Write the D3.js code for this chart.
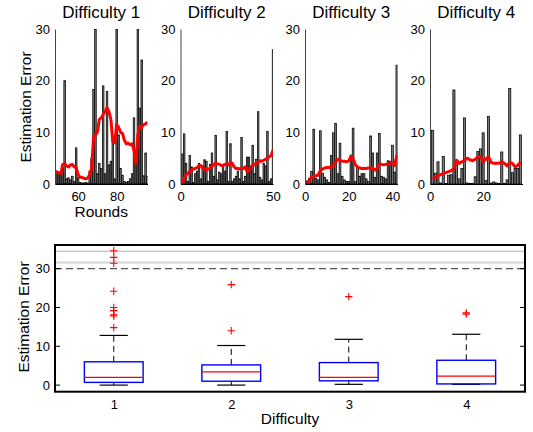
<!DOCTYPE html>
<html>
<head>
<meta charset="utf-8">
<script src="https://cdn.jsdelivr.net/npm/d3@7"></script>
<style>
  body { margin: 0; background: #fff; }
  text { font-family: "Liberation Sans", Arial, Helvetica, sans-serif; fill: #000; }
</style>
</head>
<body>
<div id="chart"></div>
<script>
// ---- data ----
let panelTitles = ["Difficulty 1", "Difficulty 2", "Difficulty 3", "Difficulty 4"];
let roundStart = [48, 1, 1, 1];
let xDomains = [[48, 96], [0, 50], [0, 42.3], [0, 34.8]];
let xTicks = [[60, 80], [0, 50], [0, 20, 40], [0, 20]];
let yTicksTop = [0, 10, 20, 30];

// estimation error per round
let err1 = [2.7, 2.5, 2.2, 1.8, 3.0, 20, 1.0, 1.2, 0.8, 1.5, 0.5, 7.0, 1.2, 0.3, 0.2, 0.2, 0.3, 0.2, 2.5, 5.0,
            18.3, 30, 2.0, 4.0, 3.0, 19, 2.0, 17.9, 3.7, 4.4, 9.2, 1.0, 30, 9.5, 3.0, 1.7, 0.5, 0.3, 0.5, 1.0,
            2.0, 12.8, 5.0, 30, 14.7, 24, 1.6, 6.0, 1.5];
let err2 = [5.8, 9.7, 4.0, 0.5, 5.5, 3.3, 0.3, 2.0, 2.5, 4.0, 1.0, 3.5, 4.7, 4.4, 0.5, 3.8, 6.0, 1.5, 9.4, 0.8,
            2.3, 2.0, 3.7, 2.5, 10.2, 0.5, 7.8, 0.5, 1.0, 1.5, 2.5, 1.0, 9.0, 0.5, 1.5, 5.2, 5.2, 3.5, 7.5, 2.0,
            4.8, 14, 1.3, 0.8, 4.0, 3.5, 10.2, 0.5, 1.0, 26];
let err3 = [0.6, 1.1, 2.4, 10.6, 1.1, 0.8, 10.3, 2.1, 1.3, 0.8, 0.3, 5.5, 9.9, 11.7, 2.0, 7.9, 1.5, 0.8, 0.5, 0.5,
            5.6, 10.8, 0.5, 3.3, 1.5, 2.0, 2.0, 1.0, 0.5, 9.3, 6.0, 1.3, 6.0, 9.8, 1.5, 1.3, 1.0, 4.5, 4.4, 7.5,
            2.3, 23];
let err4 = [10.4, 2.1, 4.3, 0.2, 5.3, 0.1, 1.7, 1.8, 18.2, 3.8, 1.0, 3.0, 12.8, 0.2, 0.1, 0.1, 1.4, 6.3, 6.8, 9.9,
            0.7, 13.1, 0.2, 0.4, 0.2, 0.1, 6.2, 0.1, 0.8, 18.5, 2.2, 3.0, 3.0, 9.5];

// running average (red line)
let avg1 = [2.4, 2.3, 2.2, 2.0, 3.8, 3.9, 3.5, 3.3, 3.7, 3.8, 3.3, 3.2, 1.8, 1.3, 1.3, 1.1, 1.0, 1.2, 1.8, 3.0,
            9.0, 9.5, 10.0, 12.5, 12.8, 13.5, 14.0, 14.8, 14.0, 12.5, 8.2, 8.0, 11.5, 11.0, 10.0, 9.8, 8.5, 7.8, 7.9, 7.6,
            7.8, 6.5, 4.0, 9.5, 11.2, 11.0, 11.5, 11.6, 12.0];
let avg2 = [0.2, 1.0, 1.8, 2.0, 2.5, 2.7, 2.9, 3.0, 3.2, 3.5, 3.6, 3.0, 2.8, 2.8, 2.9, 3.0, 3.4, 3.8, 4.0, 3.9,
            3.8, 3.6, 3.6, 3.8, 3.9, 3.7, 4.2, 4.0, 3.3, 3.0, 3.0, 2.9, 3.1, 3.0, 3.3, 2.4, 2.6, 3.3, 3.5, 3.8,
            4.0, 4.2, 4.5, 4.4, 4.6, 4.8, 5.0, 5.3, 5.5, 6.6];
let avg3 = [0.2, 0.8, 1.3, 1.5, 1.6, 1.7, 2.6, 2.9, 3.1, 3.2, 3.2, 3.3, 3.5, 4.3, 4.8, 4.6, 4.4, 4.4, 4.3, 4.5,
            5.3, 4.8, 3.8, 3.3, 3.1, 3.0, 3.0, 3.0, 3.1, 3.1, 3.0, 2.7, 3.0, 3.8, 3.8, 3.7, 3.8, 3.8, 4.1, 4.0,
            3.6, 5.6];
let avg4 = [1.0, 1.3, 1.6, 1.8, 2.0, 2.2, 2.4, 2.6, 3.0, 4.6, 4.0, 4.3, 4.6, 5.0, 4.7, 4.5, 4.8, 5.2, 5.3, 4.3,
            4.8, 5.3, 4.2, 4.0, 4.0, 4.0, 4.3, 4.0, 3.5, 4.2, 4.0, 3.3, 3.6, 4.2];

// boxplot summary per difficulty
let difficulties = [1, 2, 3, 4];
let whiskerLow = [0, 0, 0.2, 0.2];
let q1 = [0.7, 1.0, 1.1, 0.3];
let medians = [2.0, 3.4, 2.0, 2.3];
let q3 = [6.0, 5.2, 5.8, 6.4];
let whiskerHigh = [12.8, 10.2, 11.8, 13.1];
let outliers = [[14.8, 17.8, 18.1, 19.2, 20.0, 24.2, 31.4, 32.9, 34.6], [14.0, 25.9], [22.8], [18.3, 18.6]];
let yTicksBottom = [0, 10, 20, 30];
let refLines = [34.5, 31.6];
let cutoff = 30;

let errs = [err1, err2, err3, err4];
let avgs = [avg1, avg2, avg3, avg4];

// ---- drawing ----
let width = 533, height = 432;
let svg = d3.select("#chart").append("svg")
    .attr("width", width)
    .attr("height", height);

let font = {title: 17, label: 15.5, tick: 13};

let panelLeft = [55, 180.5, 305, 430];
let panelW = 92.5;
let topY = 29, baseY = 184;

let yTop = d3.scaleLinear().domain([0, 30]).range([baseY, topY]);

panelTitles.forEach(function(title, p){
    let x = d3.scaleLinear().domain(xDomains[p]).range([panelLeft[p], panelLeft[p] + panelW]);
    let step = x(1) - x(0);
    let rows = errs[p].map(function(v, i){ return {round: roundStart[p] + i, err: v, avg: avgs[p][i]}; });

    let g = svg.append("g").attr("class", "panel--" + p);

    g.append("clipPath").attr("id", "clip" + p)
      .append("rect")
        .attr("x", panelLeft[p]).attr("y", topY)
        .attr("width", panelW).attr("height", baseY - topY);

    let plot = g.append("g").attr("clip-path", "url(#clip" + p + ")");

    plot.selectAll("rect.bar")
        .data(rows).enter()
        .append("rect")
          .attr("class", "bar")
          .attr("x", function(d){ return x(d.round) - step * 0.4; })
          .attr("y", function(d){ return yTop(d.err); })
          .attr("width", step * 0.8)
          .attr("height", function(d){ return baseY - yTop(d.err); })
          .attr("fill", "#7a7a7a")
          .attr("stroke", "#000")
          .attr("stroke-width", 0.75);

    let line = d3.line()
        .x(function(d){ return x(d.round); })
        .y(function(d){ return yTop(d.avg); });

    plot.append("path")
        .datum(rows)
        .attr("d", line)
        .attr("fill", "none")
        .attr("stroke", "#ff0000")
        .attr("stroke-width", 3)
        .attr("stroke-linejoin", "round");

    // axes
    let ax = g.append("g")
        .attr("transform", "translate(" + panelLeft[p] + ",0)")
        .call(d3.axisLeft(yTop).tickValues(yTicksTop).tickSize(0).tickPadding(5));
    ax.select(".domain").attr("stroke", "#444");
    ax.selectAll(".tick text").attr("font-size", font.tick).attr("font-family", null);

    let bx = g.append("g")
        .attr("transform", "translate(0," + baseY + ")")
        .call(d3.axisBottom(x).tickValues(xTicks[p]).tickSize(0).tickPadding(8));
    bx.select(".domain").attr("stroke", "#000").attr("stroke-width", 1.2);
    bx.selectAll(".tick text").attr("font-size", font.tick).attr("font-family", null);

    g.append("text")
        .attr("x", panelLeft[p] + panelW / 2)
        .attr("y", 18)
        .attr("text-anchor", "middle")
        .attr("font-size", font.title)
        .text(title);
});

svg.append("text")
    .attr("transform", "translate(31,107) rotate(-90)")
    .attr("text-anchor", "middle")
    .attr("font-size", font.label)
    .text("Estimation Error");

svg.append("text")
    .attr("x", panelLeft[0] + panelW / 2)
    .attr("y", 217)
    .attr("text-anchor", "middle")
    .attr("font-size", font.label)
    .text("Rounds");

// ---- boxplot ----
let box = {left: 55, right: 525, top: 245, bottom: 391.7};
let xb = d3.scaleLinear().domain([0.5, 4.5]).range([box.left, box.right]);
let yb = d3.scaleLinear().domain([-1.7, 36.1]).range([box.bottom, box.top]);

let bg = svg.append("g").attr("class", "boxplot");

// reference lines
bg.append("line")
    .attr("x1", box.left).attr("x2", box.right)
    .attr("y1", yb(refLines[0])).attr("y2", yb(refLines[0]))
    .attr("stroke", "#b0b0b0").attr("stroke-width", 1);
bg.append("line")
    .attr("x1", box.left).attr("x2", box.right)
    .attr("y1", yb(refLines[1])).attr("y2", yb(refLines[1]))
    .attr("stroke", "#d4d4d4").attr("stroke-width", 2);
bg.append("line")
    .attr("x1", box.left).attr("x2", box.right)
    .attr("y1", yb(cutoff)).attr("y2", yb(cutoff))
    .attr("stroke", "#555").attr("stroke-width", 1.3)
    .style("stroke-dasharray", "7,4");

let boxW = 0.5, capW = 0.24;
difficulties.forEach(function(d, i){
    let cx = xb(d);
    let g = bg.append("g").attr("class", "box--" + i);
    // whiskers
    g.append("line")
        .attr("x1", cx).attr("x2", cx)
        .attr("y1", yb(q3[i])).attr("y2", yb(whiskerHigh[i]))
        .attr("stroke", "#000").style("stroke-dasharray", "6,4");
    g.append("line")
        .attr("x1", cx).attr("x2", cx)
        .attr("y1", yb(q1[i])).attr("y2", yb(whiskerLow[i]))
        .attr("stroke", "#000").style("stroke-dasharray", "6,4");
    [whiskerLow[i], whiskerHigh[i]].forEach(function(v){
        g.append("line")
            .attr("x1", xb(d - capW / 2)).attr("x2", xb(d + capW / 2))
            .attr("y1", yb(v)).attr("y2", yb(v))
            .attr("stroke", "#000").attr("stroke-width", 1.2);
    });
    g.append("rect")
        .attr("x", xb(d - boxW / 2))
        .attr("y", yb(q3[i]))
        .attr("width", xb(d + boxW / 2) - xb(d - boxW / 2))
        .attr("height", yb(q1[i]) - yb(q3[i]))
        .attr("fill", "none")
        .attr("stroke", "#0000ff")
        .attr("stroke-width", 1.4);
    g.append("line")
        .attr("x1", xb(d - boxW / 2)).attr("x2", xb(d + boxW / 2))
        .attr("y1", yb(medians[i])).attr("y2", yb(medians[i]))
        .attr("stroke", "#ff0000").attr("stroke-width", 1.2);
    g.selectAll("path.out")
        .data(outliers[i]).enter()
        .append("path")
          .attr("class", "out")
          .attr("d", function(v){ let y = yb(v); return "M" + (cx - 3.7) + "," + y + "H" + (cx + 3.7) + "M" + cx + "," + (y - 3.7) + "V" + (y + 3.7); })
          .attr("stroke", "#ff0000")
          .attr("stroke-width", 1.1)
          .attr("fill", "none");
});

// frame + ticks
bg.append("rect")
    .attr("x", box.left).attr("y", box.top)
    .attr("width", box.right - box.left).attr("height", box.bottom - box.top)
    .attr("fill", "none").attr("stroke", "#000").attr("stroke-width", 2);

let ly = bg.append("g")
    .attr("transform", "translate(" + box.left + ",0)")
    .call(d3.axisLeft(yb).tickValues(yTicksBottom).tickSize(0).tickPadding(5));
ly.select(".domain").remove();
ly.selectAll(".tick text").attr("font-size", font.tick).attr("font-family", null);

bg.selectAll("line.rtick")
    .data(yTicksBottom).enter()
    .append("line")
      .attr("class", "rtick")
      .attr("x1", box.right - 5).attr("x2", box.right)
      .attr("y1", function(v){ return yb(v); })
      .attr("y2", function(v){ return yb(v); })
      .attr("stroke", "#000");
bg.selectAll("line.ltick")
    .data(yTicksBottom).enter()
    .append("line")
      .attr("class", "ltick")
      .attr("x1", box.left).attr("x2", box.left + 5)
      .attr("y1", function(v){ return yb(v); })
      .attr("y2", function(v){ return yb(v); })
      .attr("stroke", "#000");

let lx = bg.append("g")
    .attr("transform", "translate(0," + box.bottom + ")")
    .call(d3.axisBottom(xb).tickValues(difficulties).tickFormat(d3.format("d")).tickSize(0).tickPadding(8));
lx.select(".domain").remove();
lx.selectAll(".tick text").attr("font-size", font.tick).attr("font-family", null);

svg.append("text")
    .attr("transform", "translate(29,317) rotate(-90)")
    .attr("text-anchor", "middle")
    .attr("font-size", font.label)
    .text("Estimation Error");

svg.append("text")
    .attr("x", xb(2.5))
    .attr("y", 424)
    .attr("text-anchor", "middle")
    .attr("font-size", font.label)
    .text("Difficulty");
</script>
</body>
</html>
